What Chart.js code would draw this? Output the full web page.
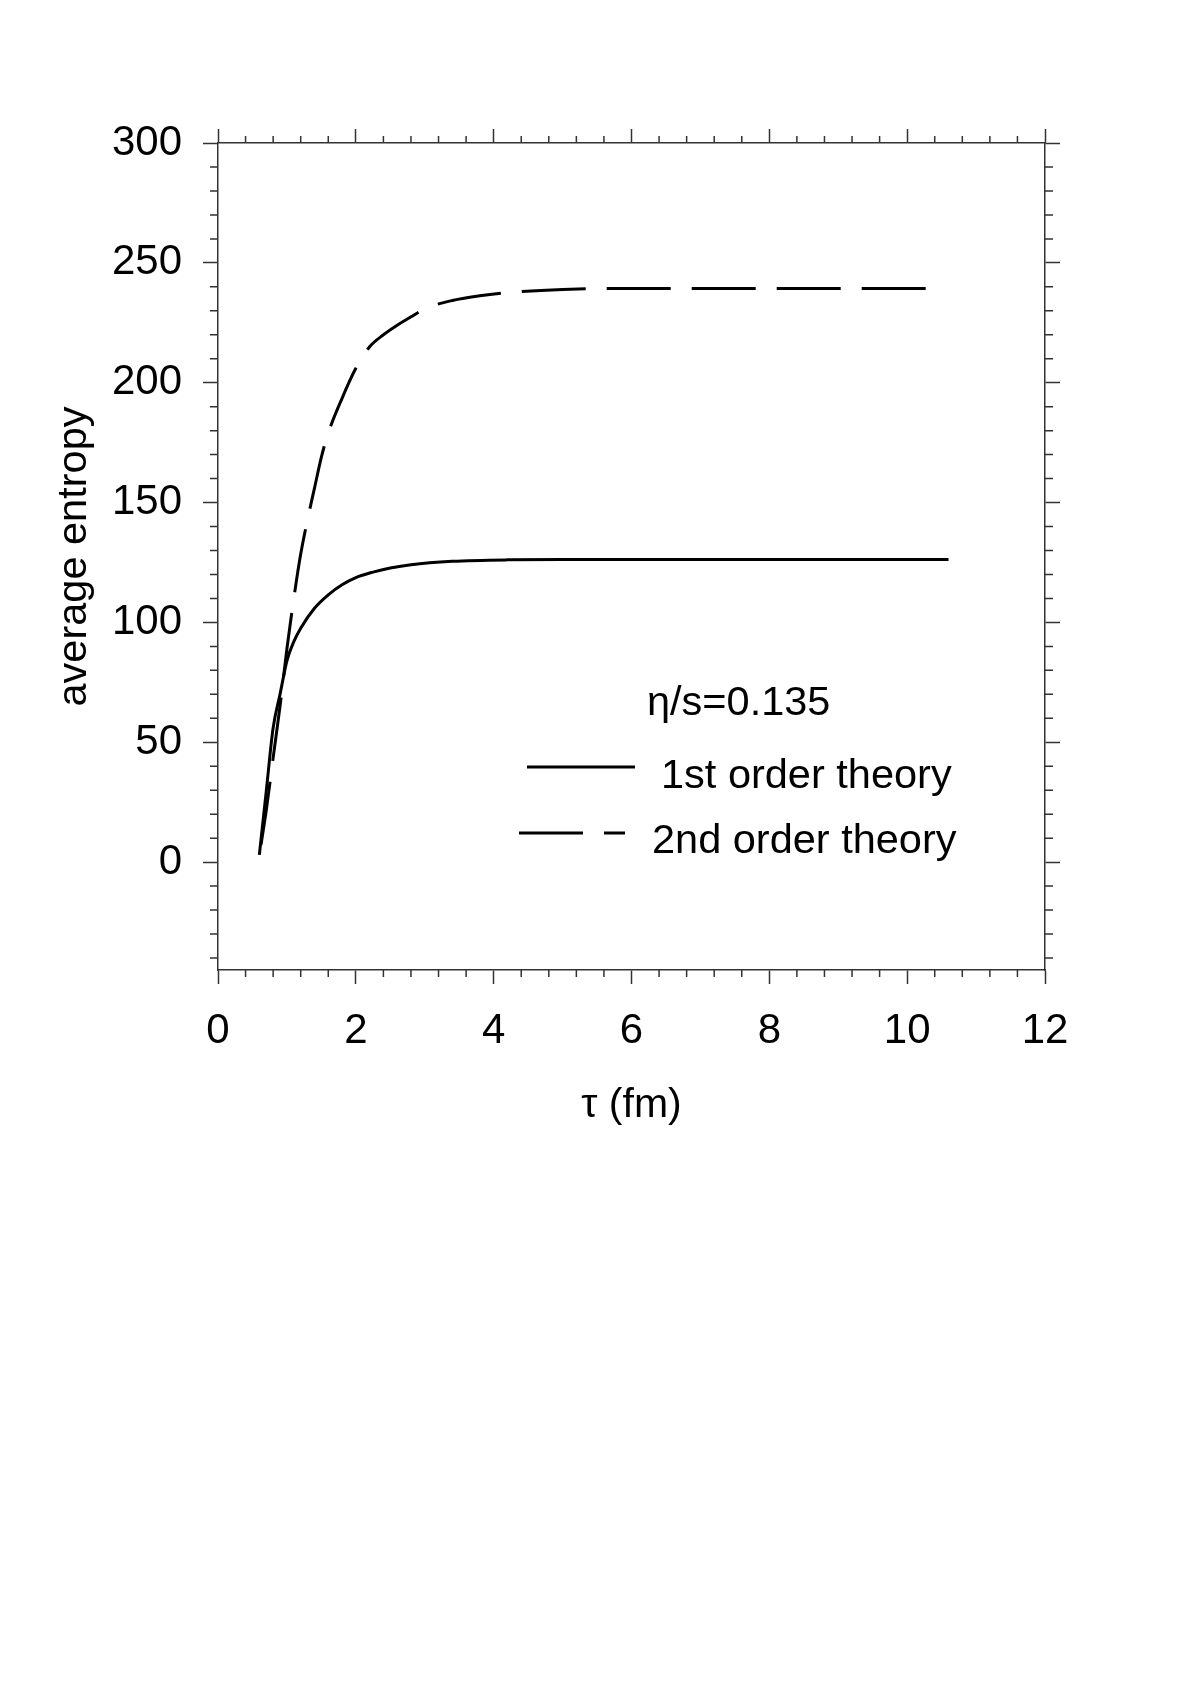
<!DOCTYPE html>
<html lang="en">
<head>
    <meta charset="UTF-8">
    <title>average entropy vs tau</title>
    <script src="https://cdn.jsdelivr.net/npm/chart.js"></script>
    <style>
        body { margin: 0; background: #fff; }
        canvas { display: block; }
    </style>
</head>
<body>
    <canvas id="entropyChart" width="1181" height="1700"></canvas>

    <script>
        // values
        const tauFirst = [0.6, 0.7, 0.8, 0.9, 1.0, 1.1, 1.2, 1.4, 1.6, 1.8, 2.0, 2.25, 2.5, 2.8, 3.4, 4.2, 5.0, 6.0, 8.0, 10.6];
        const entropyFirst = [3, 29.5, 56, 70, 84, 92, 97.6, 105.9, 111.5, 115.7, 118.7, 121, 122.7, 124.1, 125.5, 126.1, 126.2, 126.2, 126.2, 126.2];

        const tauSecond = [0.6, 0.7, 0.8, 0.9, 1.0, 1.1, 1.2, 1.3, 1.4, 1.5, 1.6, 1.8, 2.0, 2.2, 2.4, 2.6, 2.8, 3.0, 3.4, 3.8, 4.3, 5.0, 6.0, 8.0, 10.38];
        const entropySecond = [3, 21.5, 43.5, 65, 89, 110, 128.5, 143, 156, 169, 179, 193.5, 206, 215, 220, 224, 227.5, 230.8, 234.3, 236.3, 237.8, 238.9, 239.3, 239.3, 239.3];

        const xTicks = [0, 2, 4, 6, 8, 10, 12];
        const yTicks = [0, 50, 100, 150, 200, 250, 300];
        const legendTitle = 'η/s=0.135';

        const FONT = '"Liberation Sans", Arial, Helvetica, sans-serif';
        const AXIS = '#333';

        const toPoints = (xs, ys) => xs.map((x, i) => ({ x: x, y: ys[i] }));
        const setTicks = list => axis => { axis.ticks = list.map(v => ({ value: v })); };

        // minor ticks all round + the in-plot legend
        const framePlugin = {
            id: 'frame',
            afterDraw(chart) {
                const ctx = chart.ctx;
                const a = chart.chartArea;
                const xs = chart.scales.x, ys = chart.scales.y;
                ctx.save();
                ctx.strokeStyle = AXIS;
                ctx.lineWidth = 1.5;
                ctx.beginPath();
                for (let i = 1; i < 30; i++) {
                    const v = i * 0.4;
                    if (Math.abs(v / 2 - Math.round(v / 2)) < 1e-6) continue;
                    const px = xs.getPixelForValue(v);
                    ctx.moveTo(px, a.bottom); ctx.lineTo(px, a.bottom + 7);
                    ctx.moveTo(px, a.top); ctx.lineTo(px, a.top - 7);
                }
                for (let v = -40; v < 300; v += 10) {
                    if (v % 50 === 0) continue;
                    const py = ys.getPixelForValue(v);
                    ctx.moveTo(a.left, py); ctx.lineTo(a.left - 8, py);
                    ctx.moveTo(a.right, py); ctx.lineTo(a.right + 8, py);
                }
                ctx.stroke();

                // legend
                ctx.fillStyle = '#000';
                ctx.font = '41.5px ' + FONT;
                ctx.textBaseline = 'alphabetic';
                ctx.fillText(legendTitle, a.left + 429, a.top + 572);
                const rows = [
                    { x0: a.left + 309, x1: a.left + 417, y: a.top + 624, tx: a.left + 443, ty: a.top + 645 },
                    { x0: a.left + 301, x1: a.left + 407, y: a.top + 690, tx: a.left + 434, ty: a.top + 710 }
                ];
                chart.data.datasets.forEach((ds, i) => {
                    const r = rows[i];
                    ctx.save();
                    ctx.strokeStyle = ds.borderColor;
                    ctx.lineWidth = ds.borderWidth;
                    ctx.setLineDash(ds.borderDash || []);
                    ctx.beginPath();
                    ctx.moveTo(r.x0, r.y); ctx.lineTo(r.x1, r.y);
                    ctx.stroke();
                    ctx.restore();
                    ctx.fillText(ds.label, r.tx, r.ty);
                });
                ctx.restore();
            }
        };

        const gridOpts = len => ({
            drawOnChartArea: false,
            drawTicks: true,
            tickLength: len,
            tickColor: AXIS,
            tickWidth: 1.5
        });
        const borderOpts = { display: true, color: AXIS, width: 1.5 };

        new Chart(document.getElementById('entropyChart').getContext('2d'), {
            type: 'line',
            data: {
                datasets: [{
                    label: '1st order theory',
                    data: toPoints(tauFirst, entropyFirst),
                    borderColor: '#000',
                    borderWidth: 3,
                    pointRadius: 0,
                    cubicInterpolationMode: 'monotone',
                    fill: false
                }, {
                    label: '2nd order theory',
                    data: toPoints(tauSecond, entropySecond),
                    borderColor: '#000',
                    borderWidth: 3,
                    borderDash: [64, 21],
                    borderDashOffset: 75,
                    pointRadius: 0,
                    cubicInterpolationMode: 'monotone',
                    fill: false
                }]
            },
            options: {
                responsive: false,
                animation: false,
                devicePixelRatio: 1,
                layout: { padding: { top: 0, left: 0, right: 0, bottom: 570 } },
                plugins: {
                    legend: { display: false },
                    tooltip: { enabled: false }
                },
                scales: {
                    x: {
                        type: 'linear',
                        position: 'bottom',
                        min: 0, max: 12,
                        afterBuildTicks: setTicks(xTicks),
                        afterFit: s => { s.height = 160; },
                        grid: gridOpts(14),
                        border: borderOpts,
                        ticks: { color: '#000', padding: 22, maxRotation: 0, font: { family: FONT, size: 42 } },
                        title: { display: true, text: 'τ (fm)', color: '#000', padding: { top: 0, bottom: 0 }, font: { family: FONT, size: 41 } }
                    },
                    xTop: {
                        type: 'linear',
                        position: 'top',
                        min: 0, max: 12,
                        afterBuildTicks: setTicks(xTicks),
                        afterFit: s => { s.height = 143; },
                        grid: gridOpts(14),
                        border: borderOpts,
                        ticks: { display: false }
                    },
                    y: {
                        type: 'linear',
                        position: 'left',
                        min: -45, max: 300,
                        afterBuildTicks: setTicks(yTicks),
                        afterFit: s => { s.width = 218; },
                        grid: gridOpts(15),
                        border: borderOpts,
                        ticks: { color: '#000', padding: 21, font: { family: FONT, size: 42 } },
                        title: { display: true, text: 'average entropy', color: '#000', padding: { top: 50, bottom: 0 }, font: { family: FONT, size: 41.5 } }
                    },
                    yRight: {
                        type: 'linear',
                        position: 'right',
                        min: -45, max: 300,
                        afterBuildTicks: setTicks(yTicks),
                        afterFit: s => { s.width = 136; },
                        grid: gridOpts(15),
                        border: borderOpts,
                        ticks: { display: false }
                    }
                }
            },
            plugins: [framePlugin]
        });
    </script>
</body>
</html>
